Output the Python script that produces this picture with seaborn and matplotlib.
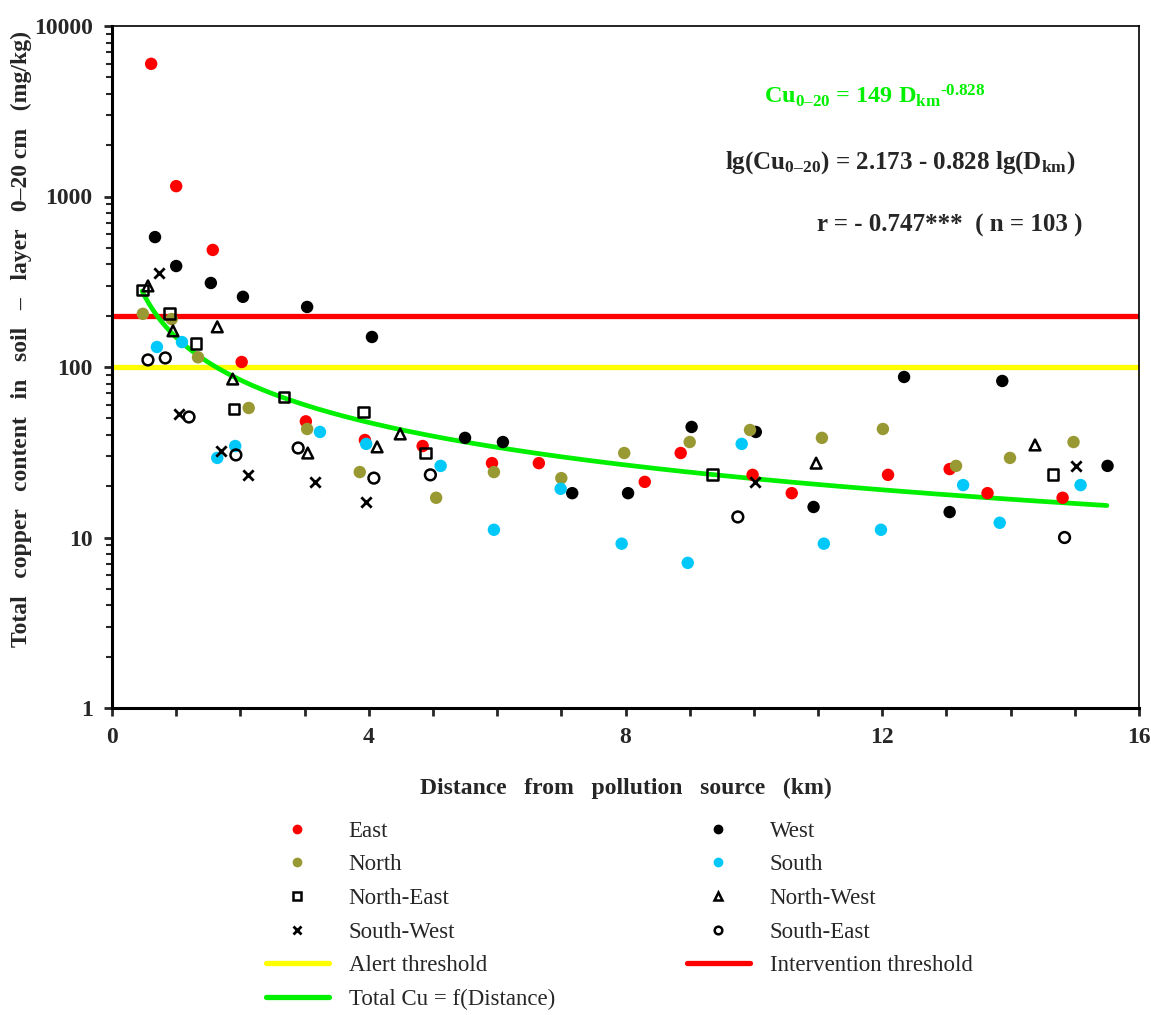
import numpy as np
import pandas as pd
import matplotlib
matplotlib.use("Agg")
import matplotlib.pyplot as plt
from matplotlib.lines import Line2D
import seaborn as sns

sns.set_style("white")
plt.rcParams["font.family"] = ["Liberation Serif", "DejaVu Serif"]
plt.rcParams["mathtext.fontset"] = "custom"
plt.rcParams["mathtext.rm"] = "Liberation Serif:bold"
plt.rcParams["mathtext.bf"] = "Liberation Serif:bold"
plt.rcParams["mathtext.it"] = "Liberation Serif:bold"
plt.rcParams["mathtext.default"] = "bf"

# ---- data (distance km, Cu mg/kg) ----
east_x = [0.61, 1.00, 1.57, 2.02, 3.02, 3.94, 4.84, 5.92, 6.65, 8.30, 8.86, 9.98, 10.59, 12.09, 13.05, 13.64, 14.81]
east_y = [6000, 1150, 486, 107, 48, 37.3, 34.4, 27.3, 27.3, 21.2, 31.3, 23.3, 18.2, 23.3, 25.2, 18.2, 17.1]
west_x = [0.67, 1.00, 1.54, 2.04, 3.04, 4.05, 5.50, 6.09, 7.17, 8.04, 9.03, 10.03, 10.93, 12.34, 13.05, 13.87, 15.51]
west_y = [578, 391, 311, 258, 225, 150, 38.4, 36.3, 18.2, 18.2, 44.5, 41.6, 15.1, 87.4, 14.1, 82.8, 26.3]
north_x = [0.48, 0.93, 1.34, 2.13, 3.04, 3.86, 5.05, 5.95, 7.00, 7.98, 9.00, 9.94, 11.06, 12.01, 13.15, 13.99, 14.98]
north_y = [205, 191, 114, 57.5, 43.3, 24.2, 17.1, 24.2, 22.3, 31.3, 36.3, 42.7, 38.4, 43.3, 26.3, 29.3, 36.3]
south_x = [0.70, 1.09, 1.64, 1.92, 3.24, 3.96, 5.12, 5.95, 6.99, 7.94, 8.97, 9.81, 11.09, 11.98, 13.26, 13.83, 15.09]
south_y = [131, 140, 29.3, 34.4, 41.6, 35.4, 26.3, 11.1, 19.3, 9.2, 7.1, 35.4, 9.2, 11.1, 20.3, 12.2, 20.3]
ne_x = [0.47, 0.89, 1.31, 1.90, 2.68, 3.92, 4.88, 9.35, 14.66]
ne_y = [283, 205, 138, 56.7, 66.7, 54.5, 31.3, 23.3, 23.3]
nw_x = [0.56, 0.95, 1.64, 1.88, 3.05, 4.13, 4.49, 10.97, 14.38]
nw_y = [299, 163, 172, 85, 31.3, 34, 40.5, 27.3, 34.9]
sw_x = [0.73, 1.05, 1.70, 2.12, 3.16, 3.96, 10.02, 15.02]
sw_y = [356, 53, 32.2, 23.3, 21.2, 16.2, 21.2, 26.3]
se_x = [0.56, 0.83, 1.20, 1.93, 2.90, 4.08, 4.96, 9.75, 14.84]
se_y = [110, 113, 50.9, 30.5, 33.5, 22.3, 23.3, 13.2, 10.0]

ALERT = 100
INTERVENTION = 200
FIT_A, FIT_B = 149, -0.828          # Cu = 149 * D^-0.828 (from the chart)
FIT_RANGE = (0.47, 15.5)

GREEN = "#00f000"
groups = [
    ("East", east_x, east_y, "o", "#ff0000", True),
    ("West", west_x, west_y, "o", "#000000", True),
    ("North", north_x, north_y, "o", "#999933", True),
    ("South", south_x, south_y, "o", "#00c8f8", True),
    ("North-East", ne_x, ne_y, "s", "#000000", False),
    ("North-West", nw_x, nw_y, "^", "#000000", False),
    ("South-West", sw_x, sw_y, "x", "#000000", None),
    ("South-East", se_x, se_y, "o", "#000000", False),
]

fig = plt.figure(figsize=(11.51, 10.15), dpi=100)
ax = fig.add_axes([112 / 1151, 1 - 708 / 1015, 1027 / 1151, 682 / 1015])

ax.axhline(ALERT, color="#ffff00", lw=3.8, zorder=1)
ax.axhline(INTERVENTION, color="#ff0000", lw=3.8, zorder=1)

d = np.linspace(FIT_RANGE[0], FIT_RANGE[1], 300)
fit = pd.DataFrame({"d": d, "cu": FIT_A * d ** FIT_B})
sns.lineplot(data=fit, x="d", y="cu", ax=ax, color=GREEN, lw=3.4, zorder=2)

handles = {}
for name, xs, ys, mk, col, filled in groups:
    df = pd.DataFrame({"x": xs, "y": ys})
    if filled:
        sns.scatterplot(data=df, x="x", y="y", ax=ax, marker=mk, s=80, color=col,
                        edgecolor="none", zorder=3)
        handles[name] = Line2D([], [], ls="none", marker=mk, color=col, ms=6)
    elif filled is None:
        sns.scatterplot(data=df, x="x", y="y", ax=ax, marker=mk, s=55, color=col,
                        linewidth=2, zorder=3)
        handles[name] = Line2D([], [], ls="none", marker=mk, color=col, ms=6, mew=2)
    else:
        sns.scatterplot(data=df, x="x", y="y", ax=ax, marker=mk, s=60, facecolor="none",
                        edgecolor=col, linewidth=1.8, zorder=3)
        handles[name] = Line2D([], [], ls="none", marker=mk, mfc="none", mec=col, ms=5.5, mew=1.8)

handles["Alert threshold"] = Line2D([], [], color="#ffff00", lw=3.8)
handles["Intervention threshold"] = Line2D([], [], color="#ff0000", lw=3.8)
handles["Total Cu = f(Distance)"] = Line2D([], [], color=GREEN, lw=3.8)

ax.set_yscale("log")
ax.set_ylim(1, 10000)
ax.set_xlim(0, 16)
ax.set_xticks(range(17))
ax.set_xticklabels([str(i) if i % 4 == 0 else "" for i in range(17)])
ax.set_yticks([1, 10, 100, 1000, 10000])
ax.set_yticklabels(["1", "10", "100", "1000", "10000"])
ax.tick_params(axis="both", which="major", direction="out", length=6, width=2,
               labelsize=17, pad=8)
ax.tick_params(axis="y", which="minor", direction="out", length=4, width=1.5, left=True)
ax.tick_params(axis="x", which="major", bottom=True)
ax.tick_params(axis="y", which="major", left=True)
for lab in ax.get_xticklabels() + ax.get_yticklabels():
    lab.set_fontweight("bold")
for sp in ["left", "bottom"]:
    ax.spines[sp].set_linewidth(2.2)
for sp in ["top", "right"]:
    ax.spines[sp].set_linewidth(1.2)
for sp in ax.spines.values():
    sp.set_color("black")

ax.set_xlabel("Distance   from   pollution   source   (km)", fontsize=17, fontweight="bold",
              labelpad=21)
ax.set_ylabel("Total   copper   content   in   soil   \u2013   layer   0\u201320 cm   (mg/kg)",
              fontsize=17, fontweight="bold")
ax.yaxis.set_label_coords(-0.078, 0.541)

ax.text(0.635, 0.898, "Cu$_{0\u201320}$ = 149 D$_{km}$$^{\\text{-0.828}}$", transform=ax.transAxes,
        color=GREEN, fontsize=17.5, fontweight="bold", ha="left", va="center")
ax.text(0.938, 0.80, "lg(Cu$_{0\u201320}$) = 2.173 - 0.828 lg(D$_{km}$)", transform=ax.transAxes,
        fontsize=18, fontweight="bold", ha="right", va="center")
ax.text(0.945, 0.708, "r = - 0.747***  ( n = 103 )", transform=ax.transAxes,
        fontsize=18, fontweight="bold", ha="right", va="center")

order = ["East", "North", "North-East", "South-West", "Alert threshold", "Total Cu = f(Distance)",
         "West", "South", "North-West", "South-East", "Intervention threshold"]
fig.legend([handles[k] for k in order], order, loc="upper left",
           bbox_to_anchor=(245 / 1151, 1 - 800 / 1015), ncol=2, frameon=False,
           fontsize=16.5, handlelength=2.75, handletextpad=0.87, columnspacing=5.75,
           labelspacing=0.55)

fig.savefig("out.png", dpi=100)
